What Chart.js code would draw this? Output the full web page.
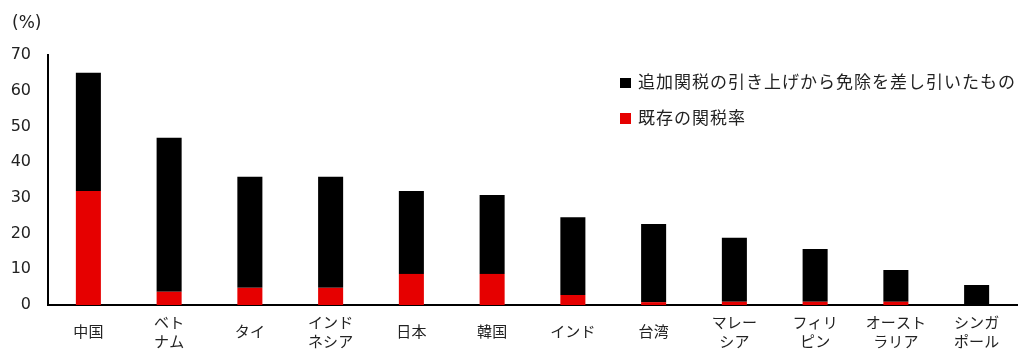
<!DOCTYPE html>
<html>
<head>
<meta charset="utf-8">
<script src="https://cdn.jsdelivr.net/npm/chart.js"></script>
<style>
  html, body { margin: 0; padding: 0; background: #fff; }
  #wrap { position: relative; width: 1026px; height: 363px; }
  .unit { position: absolute; left: 12px; top: 12px; font: 17px "DejaVu Sans", sans-serif; color: #222; }
  .leg { position: absolute; left: 620px; font: 17px "Noto Sans CJK JP", sans-serif; letter-spacing: 1px; color: #222; white-space: nowrap; }
  .leg i { position: absolute; left: 0; width: 11px; }
  .leg span { position: absolute; left: 18px; line-height: 20px; }
</style>
</head>
<body>
<div id="wrap">
  <canvas id="c"></canvas>
  <div class="unit">(%)</div>
  <div class="leg" style="top:71px"><i style="top:7px;height:10px;background:#000"></i><span>追加関税の引き上げから免除を差し引いたもの</span></div>
  <div class="leg" style="top:107px"><i style="top:6px;height:11px;background:#e60000"></i><span>既存の関税率</span></div>
</div>
<script>
// categories (two-line labels as arrays)
const countries = ['中国', ['ベト','ナム'], 'タイ', ['インド','ネシア'], '日本', '韓国', 'インド', '台湾',
  ['マレー','シア'], ['フィリ','ピン'], ['オースト','ラリア'], ['シンガ','ポール']];
// existing tariff rate (%)
const existing = [31.9, 3.7, 4.8, 4.8, 8.7, 8.7, 2.8, 0.8, 0.9, 0.9, 0.9, 0];
// additional tariff increase minus exemptions (%)
const additional = [33.1, 43.1, 31.1, 31.1, 23.2, 22.1, 21.8, 21.9, 17.9, 14.8, 8.9, 5.6];
const yTicks = [0, 10, 20, 30, 40, 50, 60, 70];

const FONT = '"Noto Sans CJK JP", "DejaVu Sans", sans-serif';

new Chart(document.getElementById('c'), {
  type: 'bar',
  data: {
    labels: countries,
    datasets: [
      { label: '既存の関税率', data: existing, backgroundColor: '#e60000', barPercentage: 0.31, categoryPercentage: 1 },
      { label: '追加関税の引き上げから免除を差し引いたもの', data: additional, backgroundColor: '#000', barPercentage: 0.31, categoryPercentage: 1 }
    ]
  },
  options: {
    responsive: true,
    maintainAspectRatio: false,
    animation: false,
    layout: { padding: { top: 55, right: 9, left: 0, bottom: 0 } },
    plugins: { legend: { display: false }, tooltip: { enabled: false } },
    scales: {
      x: {
        stacked: true,
        grid: { display: false, drawTicks: false, tickLength: 0 },
        border: { display: true, color: '#000', width: 2 },
        ticks: { color: '#222', font: { family: FONT, size: 15, lineHeight: 1.27 }, padding: 17, maxRotation: 0, autoSkip: false, crossAlign: 'center' },
        afterFit: s => { s.height = 58; }
      },
      y: {
        stacked: true,
        min: 0, max: 70,
        afterBuildTicks: s => { s.ticks = yTicks.map(v => ({ value: v })); },
        grid: { display: false, drawTicks: false, tickLength: 0 },
        border: { display: true, color: '#000', width: 2 },
        ticks: { color: '#222', font: { family: '"DejaVu Sans", sans-serif', size: 16 }, padding: 17 },
        afterFit: s => { s.width = 48; }
      }
    }
  }
});
</script>
</body>
</html>
